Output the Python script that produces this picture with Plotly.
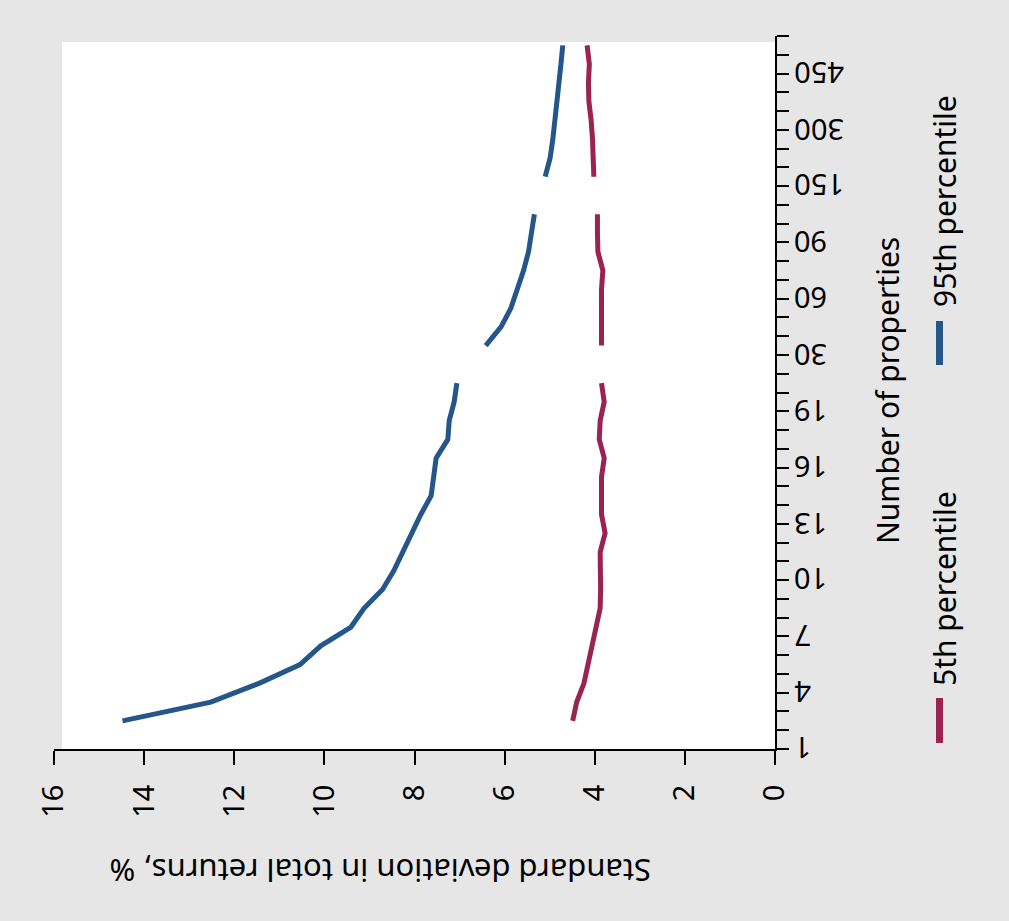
import plotly.graph_objects as go

# ---- data ----
categories = ["1", "2", "3", "4", "5", "6", "7", "8", "9", "10", "11", "12", "13",
              "14", "15", "16", "17", "18", "19", "20", "25", "30", "40", "50", "60",
              "70", "80", "90", "100", "125", "150", "200", "250", "300", "350",
              "400", "450"]
p95 = [14.48, 12.52, 11.45, 10.54, 10.08, 9.41, 9.12, 8.71, 8.46, 8.26, 8.08, 7.86, 7.63,
       7.57, 7.52, 7.26, 7.23, 7.12, 7.06, None, 6.42, 6.08, 5.86, 5.71, 5.58,
       5.47, 5.40, 5.34, None, 5.10, 4.99, 4.93, 4.88, 4.84, 4.79,
       4.75, 4.71]
p5 = [4.49, 4.40, 4.24, 4.15, 4.07, 3.97, 3.88, 3.87, 3.87, 3.88, 3.77, 3.85, 3.85,
      3.85, 3.79, 3.90, 3.88, 3.79, 3.85, None, 3.85, 3.85, 3.85, 3.85, 3.82,
      3.93, 3.94, 3.94, None, 4.02, 4.03, 4.05, 4.08, 4.13, 4.14,
      4.12, 4.17]
value_ticks = [0, 2, 4, 6, 8, 10, 12, 14, 16]
series_names = ["5th percentile", "95th percentile"]
x_title = "Standard deviation in total returns, %"
y_title = "Number of properties"

# ---- style ----
BLUE = "#25568a"
RED = "#9b234f"
BG = "#e6e6e6"
FONT = "Noto Sans"
W, H = 1009, 921
L, R, T, B = 54, 234, 36, 172          # plot-area margins (px)
PW, PH = W - L - R, H - T - B
label_every = 3
point_offset = 1.5                     # data sit 1.5 slots above their label tick
extra_slots = 2

n = len(categories)
cat_pos = [i + point_offset for i in range(n)]
tick_pos = list(range(n + extra_slots))

fig = go.Figure()
fig.add_trace(go.Scatter(x=p5, y=cat_pos, mode="lines", name=series_names[0],
                         line=dict(color=RED, width=5), connectgaps=False,
                         showlegend=False, hovertext=categories))
fig.add_trace(go.Scatter(x=p95, y=cat_pos, mode="lines", name=series_names[1],
                         line=dict(color=BLUE, width=5), connectgaps=False,
                         showlegend=False, hovertext=categories))


def px(xp):
    return (xp - L) / PW


def py(yp):
    return (H - B - yp) / PH


big = dict(family=FONT, size=30, color="black")
annotations = [
    dict(text=x_title, textangle=180,
         x=px(380), y=py(871), xref="paper", yref="paper", showarrow=False,
         xanchor="center", yanchor="middle", font=dict(family=FONT, size=31, color="black")),
    dict(text=y_title, textangle=-90,
         x=px(888), y=py(391), xref="paper", yref="paper", showarrow=False,
         xanchor="center", yanchor="middle", font=big),
    dict(text=series_names[1], textangle=-90,
         x=px(944), y=py(201), xref="paper", yref="paper", showarrow=False,
         xanchor="center", yanchor="middle", font=big),
    dict(text=series_names[0], textangle=-90,
         x=px(944), y=py(588), xref="paper", yref="paper", showarrow=False,
         xanchor="center", yanchor="middle", font=big),
]
# category tick labels: upside-down, left-aligned just right of the ticks
for i, c in enumerate(categories):
    if i % label_every == 0:
        annotations.append(dict(text=c, textangle=180, x=px(792), y=i,
                                xref="paper", yref="y", showarrow=False,
                                xanchor="left", yanchor="middle",
                                font=dict(family=FONT, size=29, color="black")))

shapes = [
    # white plot area (slightly inset from the axis extent, as in the reference)
    dict(type="rect", xref="x domain", yref="y domain", x0=8 / PW, x1=1, y0=0, y1=(H - B - 42) / PH,
         fillcolor="white", line=dict(width=0), layer="below"),
    # legend keys
    dict(type="line", xref="paper", yref="paper", x0=px(939.5), x1=px(939.5), y0=py(321), y1=py(365),
         line=dict(color=BLUE, width=7)),
    dict(type="line", xref="paper", yref="paper", x0=px(939.5), x1=px(939.5), y0=py(698), y1=py(743),
         line=dict(color=RED, width=7)),
]

fig.update_layout(
    template="none",
    width=W, height=H,
    margin=dict(l=L, r=R, t=T, b=B, pad=0),
    paper_bgcolor=BG, plot_bgcolor=BG,
    showlegend=False,
    font=dict(family=FONT, size=29, color="black"),
    annotations=annotations,
    shapes=shapes,
    xaxis=dict(range=[max(value_ticks), min(value_ticks)], tickmode="array", tickvals=value_ticks,
               ticks="outside", ticklen=14, tickwidth=2, tickcolor="black",
               tickangle=-90, showline=True, linewidth=2, linecolor="black",
               showgrid=False, zeroline=False, automargin=False,
               tickfont=dict(family=FONT, size=29), ticklabelstandoff=8),
    yaxis=dict(range=[0, n + extra_slots - 1], side="right", tickmode="array",
               tickvals=tick_pos, showticklabels=False,
               ticks="outside", ticklen=12, tickwidth=2, tickcolor="black",
               showline=True, linewidth=2, linecolor="black",
               showgrid=False, zeroline=False, automargin=False),
)

fig.write_html("out.html", config={"displayModeBar": False},
               post_script="document.body.style.margin='0px';")
